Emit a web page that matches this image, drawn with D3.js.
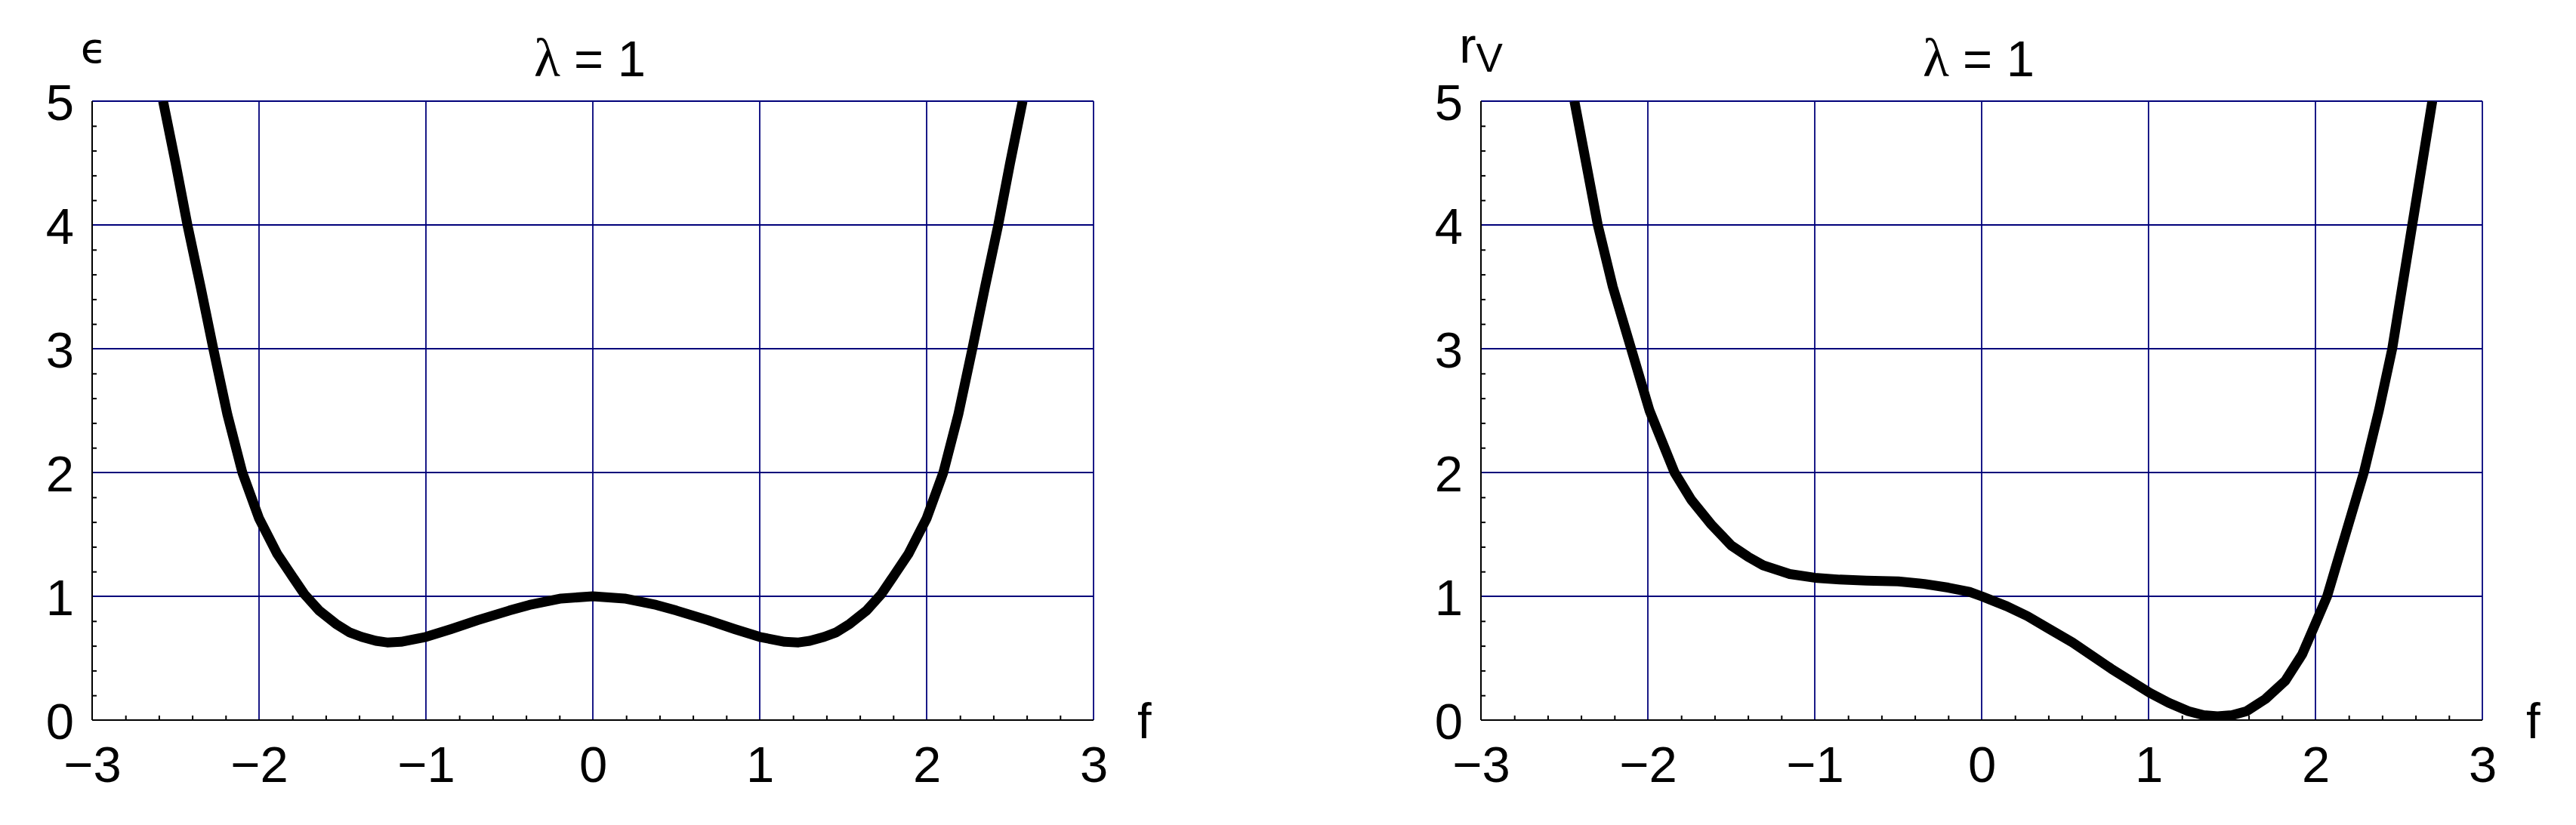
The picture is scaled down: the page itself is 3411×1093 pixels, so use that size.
<!DOCTYPE html>
<html>
<head>
<meta charset="utf-8">
<script src="https://cdn.jsdelivr.net/npm/d3@7"></script>
<style>
  html, body { margin: 0; padding: 0; background: #fff; }
  svg { display: block; }
  text { font-family: 'Liberation Sans', Arial, sans-serif; fill: #000; }
</style>
</head>
<body>
<div id="svg-container"></div>
<script>
// axis ticks
const fTicks = [-3, -2, -1, 0, 1, 2, 3]
const yTicks = [0, 1, 2, 3, 4, 5]

// left panel: epsilon(f), lambda = 1
const epsF = [-2.575, -2.5, -2.429, -2.35, -2.274, -2.19, -2.1, -2.0, -1.89, -1.8, -1.73, -1.64, -1.54, -1.46, -1.386, -1.3, -1.232, -1.15, -1.0, -0.85, -0.69, -0.5, -0.38, -0.19, 0,
  0.19, 0.38, 0.5, 0.69, 0.85, 1.0, 1.15, 1.232, 1.3, 1.386, 1.46, 1.54, 1.64, 1.73, 1.8, 1.89, 2.0, 2.1, 2.19, 2.274, 2.35, 2.429, 2.5, 2.575]
const epsV = [5, 4.5, 4.0, 3.5, 3.0, 2.47, 2.0, 1.63, 1.34, 1.16, 1.02, 0.885, 0.778, 0.71, 0.672, 0.64, 0.627, 0.632, 0.672, 0.735, 0.807, 0.885, 0.93, 0.982, 1.0,
  0.982, 0.93, 0.885, 0.807, 0.735, 0.672, 0.632, 0.627, 0.64, 0.672, 0.71, 0.778, 0.885, 1.02, 1.16, 1.34, 1.63, 2.0, 2.47, 3.0, 3.5, 4.0, 4.5, 5]

// right panel: r_V(f), lambda = 1
const rvF = [-2.44, -2.37, -2.3, -2.21, -2.1, -1.99, -1.84, -1.74, -1.62, -1.5, -1.4, -1.309, -1.15, -1.0, -0.85, -0.69, -0.5, -0.344, -0.2, -0.073, 0,
  0.15, 0.274, 0.4, 0.544, 0.776, 1.008, 1.12, 1.239, 1.33, 1.413, 1.5, 1.587, 1.7, 1.819, 1.92, 2.0, 2.07, 2.18, 2.29, 2.38, 2.46, 2.58, 2.7]
const rvV = [5, 4.5, 4.0, 3.5, 3.0, 2.5, 2.0, 1.78, 1.58, 1.41, 1.32, 1.25, 1.18, 1.15, 1.135, 1.127, 1.12, 1.1, 1.07, 1.036, 1.0,
  0.92, 0.84, 0.74, 0.627, 0.415, 0.219, 0.14, 0.072, 0.04, 0.03, 0.04, 0.072, 0.17, 0.317, 0.53, 0.78, 1.0, 1.5, 2.0, 2.5, 3.0, 4.0, 5.0]

const titleText = '= 1'
const gridColor = '#00007a'

const width = 3411
const height = 1093
const plotW = 1326
const plotH = 820
const plotTop = 134

const svg = d3.select('#svg-container').append('svg')
  .attr('width', width)
  .attr('height', height)

const x = d3.scaleLinear().domain([-3, 3]).range([0, plotW])
const y = d3.scaleLinear().domain([0, 5]).range([plotH, 0])
const fmt = d3.format('d')

const minorX = d3.range(-30, 31, 2).map(d => d / 10).filter(d => !fTicks.includes(d))
const minorY = d3.range(0, 51, 2).map(d => d / 10).filter(d => !yTicks.includes(d))

function drawPanel(left, fs, vs, id, yLabel) {
  const g = svg.append('g').attr('transform', `translate(${left},${plotTop})`)

  // grid
  g.append('g').selectAll('line').data(fTicks.slice(1)).join('line')
    .attr('x1', d => x(d)).attr('x2', d => x(d))
    .attr('y1', 0).attr('y2', plotH)
    .attr('stroke', gridColor).attr('stroke-width', 1.8)
  g.append('g').selectAll('line').data(yTicks.slice(1)).join('line')
    .attr('x1', 0).attr('x2', plotW)
    .attr('y1', d => y(d)).attr('y2', d => y(d))
    .attr('stroke', gridColor).attr('stroke-width', 1.8)

  // curve
  g.append('clipPath').attr('id', id)
    .append('rect').attr('width', plotW).attr('height', plotH)
  const pts = fs.map((f, i) => [f, vs[i]])
  g.append('path')
    .datum(pts)
    .attr('clip-path', `url(#${id})`)
    .attr('fill', 'none')
    .attr('stroke', '#000')
    .attr('stroke-width', 13)
    .attr('stroke-linejoin', 'round')
    .attr('d', d3.line().x(d => x(d[0])).y(d => y(d[1])))

  // minor ticks
  g.append('g').attr('transform', `translate(0,${plotH})`)
    .call(d3.axisBottom(x).tickValues(minorX).tickSize(-6).tickFormat(''))
    .call(a => a.select('.domain').remove())
    .call(a => a.selectAll('line').attr('stroke-width', 2))
  g.append('g')
    .call(d3.axisLeft(y).tickValues(minorY).tickSize(-6).tickFormat(''))
    .call(a => a.select('.domain').remove())
    .call(a => a.selectAll('line').attr('stroke-width', 2))

  // axis lines
  g.append('line').attr('x1', 0).attr('x2', plotW).attr('y1', plotH).attr('y2', plotH)
    .attr('stroke', '#000').attr('stroke-width', 2)
  g.append('line').attr('x1', 0).attr('x2', 0).attr('y1', 0).attr('y2', plotH)
    .attr('stroke', '#000').attr('stroke-width', 2)

  // tick labels
  const xa = g.append('g').attr('transform', `translate(0,${plotH})`)
    .call(d3.axisBottom(x).tickValues(fTicks).tickFormat(fmt).tickSize(0).tickPadding(0))
  xa.select('.domain').remove()
  xa.selectAll('text')
    .attr('y', 82).attr('dy', null)
    .style('font-size', '67px').style('font-family', "'Liberation Sans', Arial, sans-serif")
  const ya = g.append('g')
    .call(d3.axisLeft(y).tickValues(yTicks).tickFormat(fmt).tickSize(0).tickPadding(0))
  ya.select('.domain').remove()
  ya.selectAll('text')
    .attr('x', -24).attr('dy', '0.36em')
    .style('font-size', '67px').style('font-family', "'Liberation Sans', Arial, sans-serif")

  // f label
  g.append('text').attr('x', plotW + 58).attr('y', plotH + 24)
    .style('font-size', '67px').text('f')

  // title
  const t = g.append('text').attr('x', x(0) - 4).attr('y', 101 - plotTop)
    .attr('text-anchor', 'middle').style('font-size', '67px')
  t.append('tspan').style('font-family', "'Liberation Serif', 'Times New Roman', serif")
    .style('font-size', '72px').text('λ ')
  t.append('tspan').text(titleText)

  yLabel(g)
}

drawPanel(122, epsF, epsV, 'clip-left', g => {
  g.append('text').attr('x', 2).attr('y', 83 - plotTop)
    .attr('text-anchor', 'middle')
    .style('font-family', "'DejaVu Sans', sans-serif").style('font-size', '56px')
    .text('ϵ')
})

drawPanel(1961, rvF, rvV, 'clip-right', g => {
  const t = g.append('text').attr('x', 0).attr('y', 83 - plotTop)
    .attr('text-anchor', 'middle').style('font-size', '67px')
  t.append('tspan').text('r')
  t.append('tspan').attr('dy', 12).style('font-size', '53px').text('V')
})
</script>
</body>
</html>
